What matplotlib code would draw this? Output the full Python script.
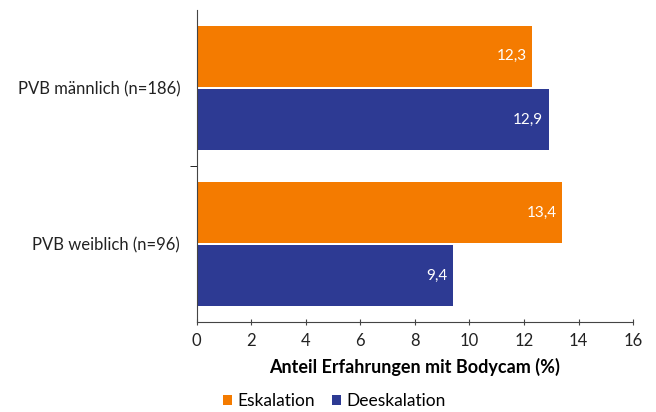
import matplotlib
matplotlib.use("Agg")
import matplotlib.pyplot as plt
import numpy as np

plt.rcParams['font.family'] = ['Lato', 'DejaVu Sans']

# data
categories = ['PVB weiblich (n=96)', 'PVB männlich (n=186)']
eskalation = [13.4, 12.3]
deeskalation = [9.4, 12.9]
xticks = [0, 2, 4, 6, 8, 10, 12, 14, 16]

orange = '#F47B00'
blue = '#2D3A93'

fig = plt.figure(figsize=(6.56, 4.12), dpi=100)
ax = fig.add_axes([0.300, 0.218, 0.665, 0.758])

y = np.arange(len(categories))
h = 0.39
off = 0.203
ax.barh(y + off, eskalation, height=h, color=orange, label='Eskalation')
ax.barh(y - off, deeskalation, height=h, color=blue, label='Deeskalation')

for yy, vals in ((y + off, eskalation), (y - off, deeskalation)):
    for yi, v in zip(yy, vals):
        ax.text(v - 0.2, yi, f'{v:.1f}'.replace('.', ','), ha='right', va='center',
                color='white', fontsize=11)

ax.set_xlim(0, 16)
ax.set_ylim(-0.5, 1.5)
ax.set_xticks(xticks)
ax.set_xticklabels([str(t) for t in xticks], fontsize=12, color='#222222')
ax.set_yticks(y)
ax.set_yticklabels(categories, fontsize=12, color='#222222')
ax.set_yticks([0.5], minor=True)
ax.tick_params(axis='y', which='major', length=0, pad=12)
ax.tick_params(axis='y', which='minor', length=5, direction='out')
ax.tick_params(axis='x', length=4, direction='inout', pad=6, colors='#444444', labelcolor='#222222')

for s in ('top', 'right'):
    ax.spines[s].set_visible(False)
ax.spines['left'].set_color('#444444')
ax.spines['bottom'].set_color('#444444')

ax.set_xlabel('Anteil Erfahrungen mit Bodycam (%)', fontsize=13, fontweight='bold', labelpad=6)

fig.legend(loc='lower center', bbox_to_anchor=(0.51, -0.03), ncol=2, frameon=False,
           fontsize=12.5, handlelength=0.5, handleheight=0.5, handletextpad=0.3,
           columnspacing=1.0)

fig.savefig('out.png', dpi=100)
